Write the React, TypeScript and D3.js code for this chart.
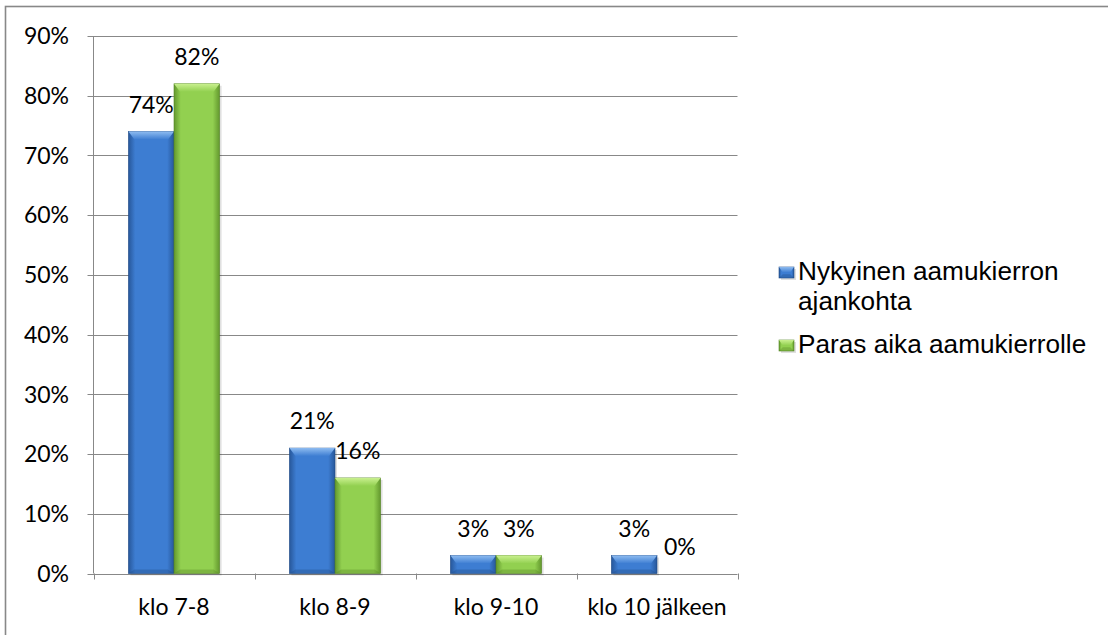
import React from "react";
import * as d3 from "d3";

const categories = ["klo 7-8", "klo 8-9", "klo 9-10", "klo 10 jälkeen"];
const seriesNames = ["Nykyinen aamukierron ajankohta", "Paras aika aamukierrolle"];
const currentValues = [74, 21, 3, 3];
const bestValues = [82, 16, 3, 0];
const yTicks = [0, 10, 20, 30, 40, 50, 60, 70, 80, 90];

const W = 1108;
const H = 635;
const plot = { left: 93.5, right: 737.5, top: 36, bottom: 573.5 };

const palettes = [
  { edge: "#27579a", mid: "#3d7dd2", light: "#8dbbf0", dark: "#1f4a85" },
  { edge: "#63982e", mid: "#92d050", light: "#c9f08f", dark: "#558526" },
];

export default function App() {
  const y = d3.scaleLinear().domain([0, 90]).range([plot.bottom, plot.top]);
  const x0 = d3.scaleBand<string>().domain(categories).range([plot.left, plot.right]).paddingInner(0).paddingOuter(0);
  const x1 = d3.scaleBand<number>().domain([0, 1]).range([0, x0.bandwidth()]).paddingInner(0).paddingOuter(0.766);
  const series = [currentValues, bestValues];
  const boundaries = d3.range(categories.length + 1).map((i) => plot.left + i * x0.step());

  const bar = (xPos: number, top: number, w: number, h: number, s: number, key: string) => {
    const p = palettes[s];
    const bev = Math.min(8, h / 2);
    const side = Math.min(6, w / 4);
    const bb = Math.min(4, h / 3);
    return (
      <g key={key}>
        <rect x={xPos + 2} y={top + 2} width={w} height={h} fill="rgba(0,0,0,0.12)" />
        <rect x={xPos} y={top} width={w} height={h} fill={`url(#grad${s})`} stroke={p.dark} strokeWidth={0.6} />
        <polygon
          points={`${xPos},${top} ${xPos + w},${top} ${xPos + w - side},${top + bev} ${xPos + side},${top + bev}`}
          fill={`url(#bev${s})`}
        />
        <polygon
          points={`${xPos},${top + h} ${xPos + w},${top + h} ${xPos + w - side},${top + h - bb} ${xPos + side},${top + h - bb}`}
          fill={p.dark}
          opacity={0.35}
        />
      </g>
    );
  };

  return (
    <svg width={W} height={H} style={{ position: "absolute", left: 0, top: 0, background: "#fff" }}>
      <defs>
        {palettes.map((p, i) => (
          <React.Fragment key={i}>
            <linearGradient id={`grad${i}`} x1="0" x2="1" y1="0" y2="0">
              <stop offset="0" stopColor={p.edge} />
              <stop offset="0.15" stopColor={p.mid} />
              <stop offset="0.85" stopColor={p.mid} />
              <stop offset="1" stopColor={p.edge} />
            </linearGradient>
            <linearGradient id={`bev${i}`} x1="0" x2="0" y1="0" y2="1">
              <stop offset="0" stopColor={p.light} />
              <stop offset="1" stopColor={p.mid} />
            </linearGradient>
          </React.Fragment>
        ))}
      </defs>
      <rect x={0} y={0} width={W} height={H} fill="#fff" />
      <rect x={5.5} y={6.5} width={W + 20} height={H + 20} fill="none" stroke="#888" strokeWidth={1.6} />

      {yTicks.map((t) => (
        <line key={`g${t}`} x1={plot.left - 6} x2={plot.right} y1={Math.round(y(t)) + 0.5} y2={Math.round(y(t)) + 0.5} stroke="#888" strokeWidth={1} />
      ))}
      <line x1={plot.left} x2={plot.left} y1={plot.top} y2={plot.bottom} stroke="#888" strokeWidth={1} />
      {boundaries.map((bx, i) => (
        <line key={`xt${i}`} x1={Math.round(bx) + 0.5} x2={Math.round(bx) + 0.5} y1={plot.bottom} y2={plot.bottom + 6} stroke="#888" strokeWidth={1} />
      ))}
      {yTicks.map((t) => (
        <text key={`yl${t}`} x={69} y={y(t)} dy="0.36em" textAnchor="end" fontFamily="Lato" fontSize={23} fill="#000">
          {t}%
        </text>
      ))}
      {categories.map((c) => (
        <text key={`cl${c}`} x={(x0(c) as number) + x0.bandwidth() / 2} y={615} textAnchor="middle" fontFamily="Lato" fontSize={23} fill="#000">
          {c}
        </text>
      ))}

      {series.map((vals, s) =>
        categories.map((c, i) => {
          const v = vals[i];
          const bx = (x0(c) as number) + (x1(s) as number);
          const w = x1.bandwidth();
          const top = y(v);
          const h = plot.bottom - top;
          return h > 0 ? bar(bx, top, w, h, s, `b${s}-${i}`) : null;
        })
      )}
      {series.map((vals, s) =>
        categories.map((c, i) => {
          const v = vals[i];
          const cx = (x0(c) as number) + (x1(s) as number) + x1.bandwidth() / 2;
          return (
            <text key={`dl${s}-${i}`} x={cx} y={y(v) - 19} textAnchor="middle" fontFamily="Lato" fontSize={23} fill="#000">
              {v}%
            </text>
          );
        })
      )}

      <g>
        {bar(779, 267, 15, 11, 0, "lg0")}
        <text x={798} y={280} fontFamily="Liberation Sans, Arial" fontSize={26.2} fill="#000">
          {seriesNames[0].split(" ").slice(0, 2).join(" ")}
        </text>
        <text x={798} y={310} fontFamily="Liberation Sans, Arial" fontSize={26.2} fill="#000">
          {seriesNames[0].split(" ").slice(2).join(" ")}
        </text>
        {bar(779, 340, 15, 11, 1, "lg1")}
        <text x={798} y={353} fontFamily="Liberation Sans, Arial" fontSize={26.2} fill="#000">
          {seriesNames[1]}
        </text>
      </g>
    </svg>
  );
}
